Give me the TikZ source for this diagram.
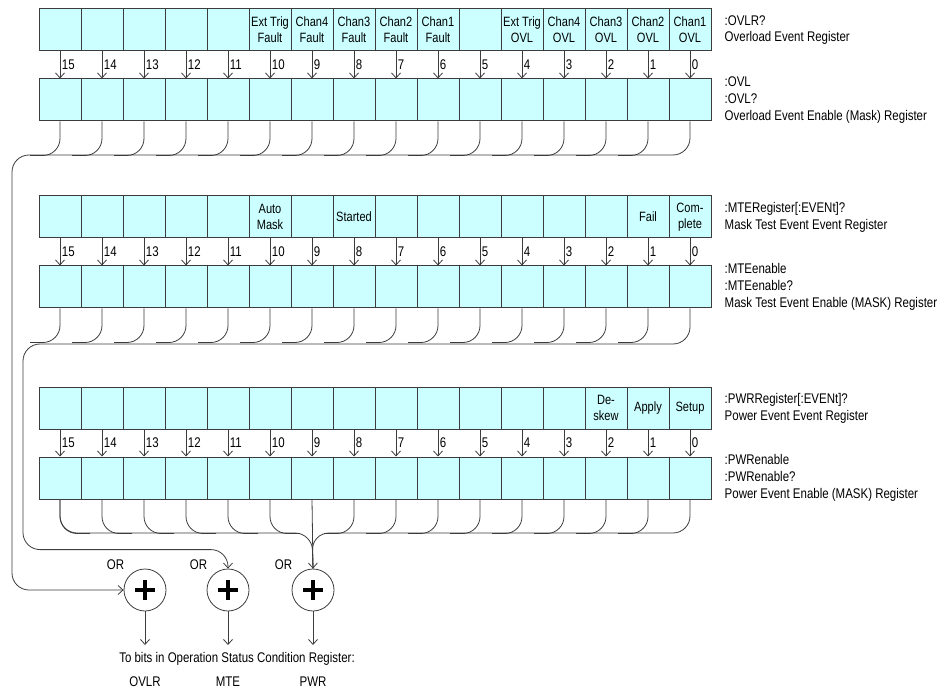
\documentclass[tikz,border=0pt]{standalone}
\usepackage{fontspec}
\setmainfont{Liberation Sans}[FakeStretch=0.82]
\usetikzlibrary{positioning, arrows.meta}
\definecolor{regcyan}{RGB}{204,255,255}
\definecolor{lineg}{RGB}{60,60,60}
\tikzstyle{regcell} = [rectangle, draw=lineg, fill=regcyan, line width=1pt, minimum width=42pt, minimum height=42pt, inner sep=0pt, align=center, font=\fontsize{13.5}{16}\selectfont]
\tikzstyle{bitno} = [anchor=west, inner sep=1.5pt, font=\fontsize{14}{16}\selectfont]
\tikzstyle{regtext} = [align=left, inner sep=0pt, font=\fontsize{14}{16.8}\selectfont]
\tikzstyle{link} = [draw=lineg, line width=0.8pt]
\tikzstyle{bus} = [draw=lineg, line width=0.8pt, rounded corners=17pt]
\tikzstyle{orgate} = [circle, draw=lineg, line width=0.8pt, minimum size=42pt, inner sep=0pt, label={[label distance=3pt, font=\fontsize{14}{16}\selectfont]135:OR}, path picture={\draw[line width=4pt, black] ([xshift=-10pt]path picture bounding box.center) -- ([xshift=10pt]path picture bounding box.center) ([yshift=-10pt]path picture bounding box.center) -- ([yshift=10pt]path picture bounding box.center);}]

\begin{document}
\begin{tikzpicture}[x=1pt, y=1pt, >={Straight Barb[length=5pt,width=9pt]}, font=\fontsize{14}{16}\selectfont]
\useasboundingbox (0,0) rectangle (947,-692);

% overload registers
\foreach \b/\t in {15/{},14/{},13/{},12/{},11/{},10/Ext Trig\\Fault,9/Chan4\\Fault,8/Chan3\\Fault,7/Chan2\\Fault,6/Chan1\\Fault,5/{},4/Ext Trig\\OVL,3/Chan4\\OVL,2/Chan3\\OVL,1/Chan2\\OVL,0/Chan1\\OVL}
  \node (ovle\b) [regcell] at ({690-42*\b},-30) {\t};
\foreach \b in {0,...,15} {
  \node (ovlm\b) [regcell] at ({690-42*\b},-100) {};
  \draw[link,->] (ovle\b.south) -- node[bitno] {\b} (ovlm\b.north);
}
\node (ovlrq) [regtext, right=13pt of ovle0] {:OVLR?\\Overload Event Register};
\node (ovlq) [regtext, right=13pt of ovlm0] {:OVL\\:OVL?\\Overload Event Enable (Mask) Register};

% mask test registers
\foreach \b/\t in {15/{},14/{},13/{},12/{},11/{},10/Auto\\Mask,9/{},8/Started,7/{},6/{},5/{},4/{},3/{},2/{},1/Fail,0/Com-\\plete}
  \node (mtee\b) [regcell] at ({690-42*\b},-217) {\t};
\foreach \b in {0,...,15} {
  \node (mtem\b) [regcell] at ({690-42*\b},-287) {};
  \draw[link,->] (mtee\b.south) -- node[bitno] {\b} (mtem\b.north);
}
\node (mterq) [regtext, right=13pt of mtee0] {:MTERegister[:EVENt]?\\Mask Test Event Event Register};
\node (mteq) [regtext, right=13pt of mtem0] {:MTEenable\\:MTEenable?\\Mask Test Event Enable (MASK) Register};

% power registers
\foreach \b/\t in {15/{},14/{},13/{},12/{},11/{},10/{},9/{},8/{},7/{},6/{},5/{},4/{},3/{},2/De-\\skew,1/Apply,0/Setup}
  \node (pwre\b) [regcell] at ({690-42*\b},-408) {\t};
\foreach \b in {0,...,15} {
  \node (pwrm\b) [regcell] at ({690-42*\b},-478) {};
  \draw[link,->] (pwre\b.south) -- node[bitno] {\b} (pwrm\b.north);
}
\node (pwrrq) [regtext, right=13pt of pwre0] {:PWRRegister[:EVENt]?\\Power Event Event Register};
\node (pwrq) [regtext, right=13pt of pwrm0] {:PWRenable\\:PWRenable?\\Power Event Enable (MASK) Register};

% OR gates
\node (or1) [orgate] at (145,-590) {};
\node (or2) [orgate] at (228,-590) {};
\node (or3) [orgate] at (313,-590) {};

% summary lines
\foreach \b in {1,...,15}
  \draw[bus] (ovlm\b.south) |- ++(-30,-34);
\draw[bus,->] (ovlm0.south) |- (12,-155) |- (or1.west);

\foreach \b in {1,...,15}
  \draw[bus] (mtem\b.south) |- ++(-30,-34);
\draw[bus,->] (mtem0.south) |- (23,-344) |- ([yshift=19pt]or2.north) -- (or2.north);

\foreach \b in {10,...,15}
  \draw[bus] (pwrm\b.south) |- ++(30,-34);
\foreach \b in {1,...,8}
  \draw[bus] (pwrm\b.south) |- ++(-30,-34);
\draw[bus] (pwrm15.south) |- (pwrm9.south |- 0,-533) -- (or3.north);
\draw[bus] (pwrm0.south) |- (pwrm9.south |- 0,-533) -- (or3.north);
\draw[link,->] (pwrm9.south) -- (or3.north);

% outputs
\coordinate (ovlrout) at (145,-645);
\coordinate (mteout) at (228,-645);
\coordinate (pwrout) at (313,-645);
\draw[link,->] (or1.south) -- (ovlrout);
\draw[link,->] (or2.south) -- (mteout);
\draw[link,->] (or3.south) -- (pwrout);

\node (tobits) at (237,-659) {To bits in Operation Status Condition Register:};
\node (ovlrbit) at (145,-682) {OVLR};
\node (mtebit) at (228,-682) {MTE};
\node (pwrbit) at (313,-682) {PWR};

\end{tikzpicture}
\end{document}
